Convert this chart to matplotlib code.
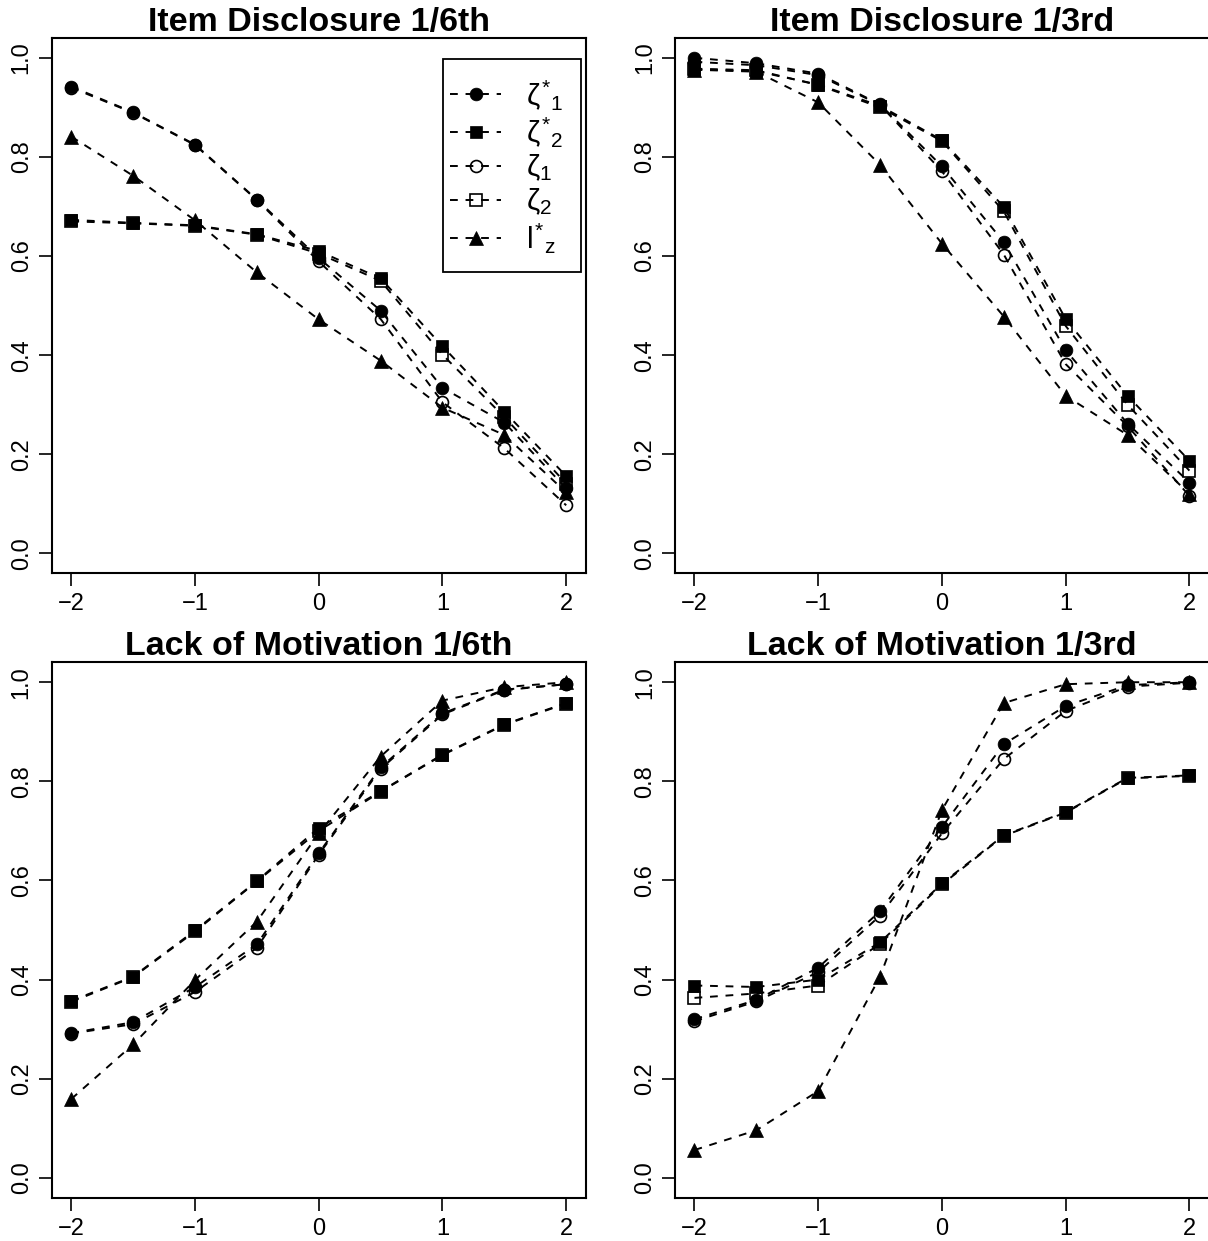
import matplotlib
matplotlib.use('Agg')
import matplotlib.pyplot as plt
from matplotlib.patches import Rectangle

plt.rcParams['font.family'] = ['Liberation Sans', 'DejaVu Sans']
plt.rcParams['mathtext.fontset'] = 'custom'
plt.rcParams['mathtext.rm'] = 'Liberation Sans'
plt.rcParams['mathtext.it'] = 'Liberation Sans'
plt.rcParams['mathtext.sf'] = 'Liberation Sans'
plt.rcParams['mathtext.bf'] = 'Liberation Sans:bold'

theta = [-2, -1.5, -1, -0.5, 0, 0.5, 1, 1.5, 2]
x_ticks = [-2, -1, 0, 1, 2]
y_ticks = [0.0, 0.2, 0.4, 0.6, 0.8, 1.0]
y_tick_labels = ['0.0', '0.2', '0.4', '0.6', '0.8', '1.0']

titles = ['Item Disclosure 1/6th', 'Item Disclosure 1/3rd',
          'Lack of Motivation 1/6th', 'Lack of Motivation 1/3rd']
series_labels = [r'${\zeta^{*}}_{1}$', r'${\zeta^{*}}_{2}$', r'$\zeta_{1}$',
                 r'$\zeta_{2}$', r'${l^{*}}_{z}$']

# Item Disclosure 1/6th
id6_zs1 = [0.942, 0.890, 0.825, 0.714, 0.596, 0.490, 0.334, 0.264, 0.131]
id6_zs2 = [0.673, 0.667, 0.662, 0.644, 0.610, 0.555, 0.418, 0.286, 0.156]
id6_z1 = [0.940, 0.889, 0.824, 0.713, 0.589, 0.473, 0.305, 0.212, 0.097]
id6_z2 = [0.670, 0.666, 0.661, 0.643, 0.605, 0.550, 0.401, 0.275, 0.141]
id6_lz = [0.841, 0.762, 0.672, 0.567, 0.472, 0.389, 0.294, 0.239, 0.123]

# Item Disclosure 1/3rd
id3_zs1 = [1.000, 0.989, 0.968, 0.906, 0.781, 0.628, 0.410, 0.262, 0.143]
id3_zs2 = [0.977, 0.973, 0.946, 0.903, 0.834, 0.699, 0.473, 0.318, 0.187]
id3_z1 = [0.992, 0.985, 0.965, 0.905, 0.771, 0.603, 0.382, 0.257, 0.116]
id3_z2 = [0.978, 0.975, 0.945, 0.900, 0.832, 0.690, 0.459, 0.300, 0.167]
id3_lz = [0.976, 0.972, 0.910, 0.784, 0.625, 0.478, 0.318, 0.239, 0.120]

# Lack of Motivation 1/6th
lm6_zs1 = [0.292, 0.314, 0.385, 0.471, 0.655, 0.828, 0.937, 0.985, 0.996]
lm6_zs2 = [0.357, 0.406, 0.499, 0.599, 0.706, 0.780, 0.854, 0.915, 0.958]
lm6_z1 = [0.291, 0.310, 0.375, 0.464, 0.652, 0.825, 0.935, 0.984, 0.996]
lm6_z2 = [0.355, 0.405, 0.497, 0.598, 0.700, 0.779, 0.853, 0.914, 0.957]
lm6_lz = [0.159, 0.269, 0.399, 0.517, 0.695, 0.850, 0.963, 0.990, 1.000]

# Lack of Motivation 1/3rd
lm3_zs1 = [0.320, 0.359, 0.424, 0.538, 0.708, 0.875, 0.952, 0.994, 1.000]
lm3_zs2 = [0.388, 0.385, 0.400, 0.475, 0.594, 0.691, 0.738, 0.807, 0.812]
lm3_z1 = [0.316, 0.356, 0.415, 0.529, 0.695, 0.845, 0.942, 0.991, 0.999]
lm3_z2 = [0.363, 0.372, 0.388, 0.472, 0.592, 0.690, 0.737, 0.806, 0.811]
lm3_lz = [0.056, 0.096, 0.175, 0.406, 0.742, 0.958, 0.996, 1.000, 1.000]

panels = [
    [id6_zs1, id6_zs2, id6_z1, id6_z2, id6_lz],
    [id3_zs1, id3_zs2, id3_z1, id3_z2, id3_lz],
    [lm6_zs1, lm6_zs2, lm6_z1, lm6_z2, lm6_lz],
    [lm3_zs1, lm3_zs2, lm3_z1, lm3_z2, lm3_lz],
]

styles = [
    dict(marker='o', ms=9.2, mfc='black', mec='black', mew=0.5),
    dict(marker='s', ms=8.6, mfc='black', mec='black', mew=0.5),
    dict(marker='o', ms=8.6, mfc='none', mec='black', mew=1.2),
    dict(marker='s', ms=8.2, mfc='none', mec='black', mew=1.2),
    dict(marker='^', ms=9.8, mfc='black', mec='black', mew=0.5),
]

W, H = 1208, 1241
fig = plt.figure(figsize=(W / 100, H / 100), dpi=100)

xl = [51.5, 674.7]
yt = [38.0, 662.4]
aw, ah = 534.5, 535.2
rects = []
for r in range(2):
    for c in range(2):
        rects.append([xl[c] / W, (H - yt[r] - ah) / H, aw / W, ah / H])

for i, (rect, data, title) in enumerate(zip(rects, panels, titles)):
    ax = fig.add_axes(rect)
    handles = []
    for vals, st, lab in zip(data, styles, series_labels):
        h, = ax.plot(theta, vals, color='black', lw=1.4, ls=(0, (4, 4)),
                     label=lab, **st)
        handles.append(h)
    ax.set_xlim(-2.16, 2.16)
    ax.set_ylim(-0.04, 1.04)
    ax.set_xticks(x_ticks)
    ax.set_yticks(y_ticks)
    ax.set_yticklabels(y_tick_labels)
    ax.tick_params(axis='both', direction='out', length=9.5, width=1.2,
                   labelsize=17, color='black')
    ax.tick_params(axis='x', pad=5)
    ax.tick_params(axis='y', pad=4, labelrotation=90)
    for lab in ax.get_yticklabels():
        lab.set_va('center')
    for s in ax.spines.values():
        s.set_linewidth(1.5)
    ax.set_title(title, fontsize=24.5, fontweight='bold', pad=4.0)
    if i == 0:
        leg = ax.legend(handles=handles, loc='center',
                        bbox_to_anchor=(0.852, 0.760), frameon=False,
                        fontsize=21.5, handlelength=1.7, handletextpad=0.85,
                        labelspacing=0.12, borderpad=0.1)
        x0 = (442.5 - 51.5) / aw
        x1 = (581.0 - 51.5) / aw
        y1 = (38.0 + ah - 58.6) / ah
        y0 = (38.0 + ah - 271.8) / ah
        ax.add_patch(Rectangle((x0, y0), x1 - x0, y1 - y0, transform=ax.transAxes,
                               fill=False, edgecolor='black', lw=1.3, zorder=5))

fig.savefig('out.png', dpi=100)
